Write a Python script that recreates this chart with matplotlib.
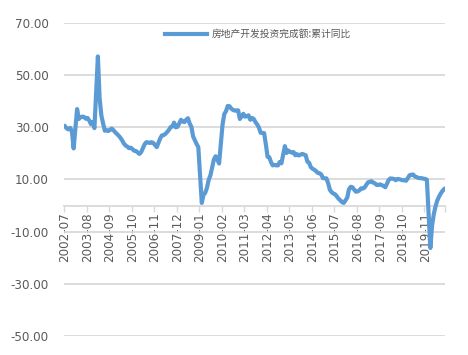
import numpy as np
import pandas as pd
import matplotlib
matplotlib.use("Agg")
import matplotlib.pyplot as plt
from matplotlib.ticker import FixedLocator

plt.rcParams['font.family'] = ['DejaVu Sans', 'Noto Sans CJK SC']

series_name = "房地产开发投资完成额:累计同比"

# cumulative yoy (%), Jan not published -> None
y2002 = [30.4, 29.6, 29.2, 29.8, 28.5, 21.9]  # Jul-Dec
y2003 = [None, 37.0, 33.2, 33.9, 34.1, 34.0, 33.3, 33.6, 32.6, 31.2, 32.0, 29.7]
y2004 = [None, 57.2, 41.1, 34.6, 31.5, 28.7, 28.9, 28.6, 29.0, 29.5, 28.9, 28.1]
y2005 = [None, 26.8, 26.0, 25.0, 23.8, 23.0, 22.6, 22.0, 22.2, 21.6, 21.0, 20.9]
y2006 = [None, 19.8, 20.5, 22.0, 23.5, 24.3, 24.2, 24.0, 24.3, 24.0, 23.2, 22.4]
y2007 = [None, 25.8, 26.9, 27.0, 27.5, 28.2, 29.0, 30.1, 30.3, 31.8, 30.0, 30.2]
y2008 = [None, 32.9, 32.2, 32.0, 32.9, 33.5, 31.5, 30.2, 26.5, 25.0, 23.6, 22.4]
y2009 = [None, 1.0, 4.1, 4.9, 6.8, 9.9, 11.6, 14.7, 17.7, 18.9, 17.6, 16.1]
y2010 = [None, 31.1, 35.1, 36.2, 38.2, 38.1, 37.2, 36.7, 36.4, 36.5, 36.5, 33.2]
y2011 = [None, 35.2, 34.1, 34.3, 34.6, 32.9, 33.6, 33.2, 32.0, 31.1, 29.9, 27.9]
y2012 = [None, 27.8, 23.5, 18.7, 18.5, 16.6, 15.4, 15.6, 15.4, 15.4, 16.7, 16.2]
y2013 = [None, 22.8, 20.2, 21.1, 20.6, 20.3, 20.5, 19.3, 19.7, 19.2, 19.5, 19.8]
y2014 = [None, 19.3, 16.8, 16.4, 14.7, 14.1, 13.7, 13.2, 12.5, 12.4, 11.9, 10.5]
y2015 = [None, 10.4, 8.5, 6.0, 5.1, 4.6, 4.3, 3.5, 2.6, 2.0, 1.3, 1.0]
y2016 = [None, 3.0, 6.2, 7.2, 7.0, 6.1, 5.3, 5.4, 5.8, 6.6, 6.5, 6.9]
y2017 = [None, 8.9, 9.1, 9.3, 8.8, 8.5, 7.9, 7.9, 8.1, 7.8, 7.5, 7.0]
y2018 = [None, 9.9, 10.4, 10.3, 10.2, 9.7, 10.2, 10.1, 9.9, 9.7, 9.7, 9.5]
y2019 = [None, 11.6, 11.8, 11.9, 11.2, 10.9, 10.6, 10.5, 10.5, 10.3, 10.2, 9.9]
y2020 = [None, -16.3, -7.7, -3.3, -0.3, 1.9, 3.4, 4.6, 5.6, 6.3]  # Jan-Oct

yticks = [70, 50, 30, 10, -10, -30, -50]

values = (y2002 + y2003 + y2004 + y2005 + y2006 + y2007 + y2008 + y2009 + y2010
          + y2011 + y2012 + y2013 + y2014 + y2015 + y2016 + y2017 + y2018 + y2019 + y2020)
values = np.array([np.nan if v is None else v for v in values], dtype=float)
dates = pd.date_range("2002-07-01", periods=len(values), freq="MS")
labels = [d.strftime("%Y-%m") for d in dates]
x = np.arange(len(values))
ok = ~np.isnan(values)

grey = "#595959"
gridc = "#D9D9D9"

fig = plt.figure(figsize=(4.68, 3.55), dpi=100)
ax = fig.add_axes([0.137, 0.054, 0.814, 0.881])

ax.plot(x[ok], values[ok], color="#5B9BD5", lw=3.0, solid_joinstyle="round",
        label=series_name, zorder=3)

ax.set_ylim(-50, 70)
ax.set_xlim(-0.5, len(values) - 0.5)
ax.set_yticks(yticks)
ax.set_yticklabels([f"{v:.2f}" for v in yticks])
ax.yaxis.grid(True, color=gridc, lw=1.3)
ax.set_axisbelow(True)
ax.tick_params(axis="y", length=0, pad=11, labelsize=8.6, labelcolor=grey)

step = 13
ax.set_xticks(x[::step])
ax.set_xticklabels(labels[::step])
ax.xaxis.set_minor_locator(FixedLocator(list(np.arange(-0.5, len(values), step)) + [len(values) - 0.5]))
ax.tick_params(axis="x", which="major", length=0, pad=5, labelsize=8.6,
               labelcolor=grey, labelrotation=90)
ax.tick_params(axis="x", which="minor", length=4, width=1, color=gridc, direction="out")

for s in ["left", "right", "top"]:
    ax.spines[s].set_visible(False)
ax.spines["bottom"].set_position(("data", 0))
ax.spines["bottom"].set_color(gridc)
ax.spines["bottom"].set_linewidth(1.3)

leg = ax.legend(loc="upper center", bbox_to_anchor=(0.51, 1.0), frameon=False,
                prop={"family": ["Noto Sans CJK SC", "DejaVu Sans"], "size": 7},
                handlelength=4.3, handletextpad=0.5, borderaxespad=0.2)
for t in leg.get_texts():
    t.set_color(grey)

fig.savefig("out.png", dpi=100)
